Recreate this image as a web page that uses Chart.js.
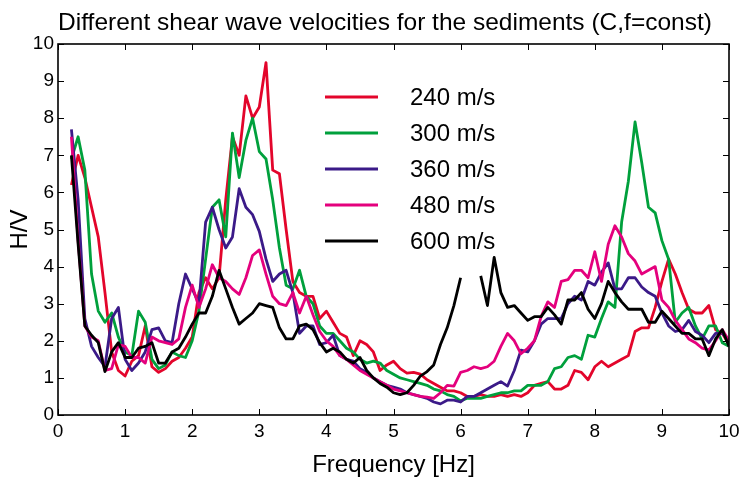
<!DOCTYPE html>
<html>
<head>
<meta charset="utf-8">
<script src="https://cdn.jsdelivr.net/npm/chart.js@4.4.0/dist/chart.umd.min.js"></script>
<style>
  html, body { margin: 0; padding: 0; background: #fff; }
  #wrap { width: 739px; height: 478px; }
</style>
</head>
<body>
<div id="wrap"><canvas id="hv"></canvas></div>
<script>
// frequency samples [Hz]
const freq = [
  0.2, 0.3, 0.4, 0.5, 0.6, 0.7, 0.8, 0.9,
  1.0, 1.1, 1.2, 1.3, 1.4, 1.5, 1.6, 1.7, 1.8, 1.9,
  2.0, 2.1, 2.2, 2.3, 2.4, 2.5, 2.6, 2.7, 2.8, 2.9,
  3.0, 3.1, 3.2, 3.3, 3.4, 3.5, 3.6, 3.7, 3.8, 3.9,
  4.0, 4.1, 4.2, 4.3, 4.4, 4.5, 4.6, 4.7, 4.8, 4.9,
  5.0, 5.1, 5.2, 5.3, 5.4, 5.5, 5.6, 5.7, 5.8, 5.9,
  6.0, 6.1, 6.2, 6.3, 6.4, 6.5, 6.6, 6.7, 6.8, 6.9,
  7.0, 7.1, 7.2, 7.3, 7.4, 7.5, 7.6, 7.7, 7.8, 7.9,
  8.0, 8.1, 8.2, 8.3, 8.4, 8.5, 8.6, 8.7, 8.8, 8.9,
  9.0, 9.1, 9.2, 9.3, 9.4, 9.5, 9.6, 9.7, 9.8, 9.9,
  10.0
]

const hv240 = [
  6.2, 7.0, 6.4, 5.6, 4.8, 3.3, 1.7, 1.2,
  1.05, 1.45, 1.6, 2.4, 1.3, 1.15, 1.25, 1.45, 1.55, 1.8,
  2.1, 3.3, 3.7, 3.4, 3.7, 5.8, 7.5, 7.0, 8.6, 8.0,
  8.3, 9.5, 6.6, 6.5, 5.0, 3.6, 3.3, 3.2, 3.2, 2.6,
  2.8, 2.5, 2.2, 2.1, 1.6, 2.0, 1.9, 1.7, 1.2, 1.35,
  1.45, 1.25, 1.13, 1.15, 1.1, 0.95, 0.85, 0.75, 0.65, 0.65,
  0.6, 0.5, 0.5, 0.55, 0.5, 0.5, 0.55, 0.5, 0.55, 0.5,
  0.6, 0.8, 0.85, 0.9, 0.7, 0.7, 0.8, 1.2, 1.15, 0.95,
  1.3, 1.45, 1.3, 1.4, 1.5, 1.6, 2.25, 2.35, 2.35, 2.9,
  3.6, 4.2, 3.8, 3.3, 2.85, 2.75, 2.75, 2.95, 2.3, 2.2,
  1.9
]

const hv300 = [
  6.9, 7.5, 6.6, 3.8, 2.8, 2.5, 2.75, 2.1,
  1.7, 1.6, 2.8, 2.5, 1.5, 1.25, 1.35, 1.7, 1.6, 1.55,
  2.0, 2.8, 4.2, 5.6, 5.8, 4.8, 7.6, 6.4, 7.4, 8.0,
  7.1, 6.9, 5.8, 4.5, 3.5, 3.4, 3.9, 3.2, 3.0, 2.4,
  2.2, 2.2, 2.0, 1.8, 1.7, 1.5, 1.4, 1.45, 1.4, 1.2,
  1.1, 1.0, 0.95, 0.9, 0.85, 0.8, 0.7, 0.65, 0.55, 0.5,
  0.38, 0.45, 0.45, 0.45, 0.5, 0.55, 0.6, 0.6, 0.65, 0.65,
  0.8, 0.8, 0.8, 0.9, 1.25, 1.3, 1.55, 1.6, 1.5, 2.15,
  2.1, 2.6, 3.05, 2.9, 5.2, 6.3, 7.9, 6.8, 5.6, 5.45,
  4.7, 4.2, 2.5, 2.75, 2.9, 2.4, 2.05, 2.4, 2.4, 1.95,
  1.85
]

const hv360 = [
  7.7, 5.8, 2.6, 1.85, 1.55, 1.3, 2.6, 2.9,
  1.5, 1.2, 1.4, 1.7, 2.3, 2.35, 2.0, 1.95, 3.0, 3.8,
  3.4, 3.0, 5.2, 5.6, 5.0, 4.5, 4.8, 6.1, 5.6, 5.4,
  4.95, 4.2, 3.6, 3.8, 3.9, 3.3, 2.2, 2.4, 2.4, 1.9,
  1.95, 2.15, 1.6, 1.5, 1.45, 1.25, 1.15, 1.0, 0.9, 0.8,
  0.75, 0.7, 0.6, 0.55, 0.5, 0.45, 0.35, 0.3, 0.4, 0.4,
  0.35, 0.5, 0.5, 0.6, 0.7, 0.8, 0.9, 0.78, 1.2, 1.75,
  1.7, 2.0, 2.45, 2.6, 2.6, 2.6, 3.0, 3.2, 3.1, 3.6,
  3.5, 3.85, 4.1, 3.4, 3.4, 3.7, 3.7, 3.45, 3.3, 3.2,
  2.75, 2.4, 2.25, 2.3, 2.55, 2.25, 2.15, 1.95, 2.2, 2.2,
  2.0
]

const hv480 = [
  7.5, 4.7, 2.4, 2.1, 2.0, 1.2, 1.25, 1.9,
  1.85, 1.55, 1.55, 1.4, 2.1, 2.0, 1.95, 1.9, 2.05, 2.9,
  3.5, 2.9, 3.4, 4.05, 3.7, 3.6, 3.4, 3.25, 3.7, 4.3,
  4.45, 3.8, 3.2, 3.0, 2.95, 3.3, 2.75, 3.2, 2.7, 2.25,
  2.0, 1.85, 1.6, 1.5, 1.35, 1.2, 1.1, 1.0, 0.9, 0.8,
  0.7, 0.65, 0.6, 0.55, 0.5, 0.48, 0.45, 0.6, 0.8, 0.78,
  1.15, 1.2, 1.3, 1.25, 1.3, 1.45, 1.85, 2.2, 2.0, 1.65,
  1.8, 2.0, 2.65, 3.05, 2.9, 3.6, 3.65, 3.9, 3.9, 3.7,
  4.4, 3.6, 4.6, 5.1, 4.8, 4.35, 4.15, 3.8, 3.9, 4.0,
  3.1, 2.9, 2.55, 2.3, 2.05, 1.95, 1.8, 1.75, 2.0, 2.3,
  2.0
]

// gap around 6.1-6.2 Hz in the 600 m/s curve
const hv600 = [
  7.0, 4.6, 2.4, 2.15, 1.95, 1.17, 1.7, 1.95,
  1.55, 1.55, 1.8, 1.85, 1.95, 1.4, 1.4, 1.7, 1.8, 2.1,
  2.45, 2.75, 2.75, 3.2, 3.9, 3.4, 2.9, 2.45, 2.6, 2.75,
  3.0, 2.95, 2.9, 2.35, 2.05, 2.05, 2.4, 2.45, 2.3, 1.95,
  1.7, 1.8, 1.7, 1.5, 1.4, 1.55, 1.2, 1.0, 0.85, 0.75,
  0.6, 0.55, 0.6, 0.8, 1.05, 1.17, 1.35, 1.9, 2.35, 2.95,
  3.7, null, null, 3.75, 2.95, 4.25, 3.3, 2.9, 2.95, 2.75,
  2.55, 2.65, 2.65, 2.9, 2.7, 2.45, 3.1, 3.1, 3.3, 2.85,
  2.6, 3.0, 3.6, 3.3, 3.05, 2.85, 2.85, 2.85, 2.5, 2.5,
  2.8, 2.6, 2.4, 2.2, 2.2, 2.05, 2.05, 1.6, 2.05, 2.3,
  1.85
]

const seriesLabels = ['240 m/s', '300 m/s', '360 m/s', '480 m/s', '600 m/s']
const seriesValues = [hv240, hv300, hv360, hv480, hv600]
const seriesColors = ['#e3052b', '#00a03c', '#3b1a88', '#e4007d', '#000000']
const xTicks = [0, 1, 2, 3, 4, 5, 6, 7, 8, 9, 10]
const yTicks = [0, 1, 2, 3, 4, 5, 6, 7, 8, 9, 10]
const titleText = 'Different shear wave velocities for the sediments (C,f=const)'

const tickFont = { family: "'Liberation Sans Narrow', 'Liberation Sans', Arial, sans-serif", size: 19 }
const labelFont = { family: "'Liberation Sans', Arial, sans-serif", size: 24, lineHeight: 1 }

// matplotlib-style box with ticks pointing inwards on all four sides
const boxTicks = {
  id: 'boxTicks',
  afterDraw(chart) {
    const { ctx, chartArea: a, scales: { x, y } } = chart
    ctx.save()
    ctx.strokeStyle = '#000'
    ctx.lineWidth = 1
    const len = 6
    xTicks.forEach(v => {
      const px = Math.round(x.getPixelForValue(v)) + 0.5
      ctx.beginPath()
      ctx.moveTo(px, a.bottom); ctx.lineTo(px, a.bottom - len)
      ctx.moveTo(px, a.top); ctx.lineTo(px, a.top + len)
      ctx.stroke()
    })
    yTicks.forEach(v => {
      const py = Math.round(y.getPixelForValue(v)) + 0.5
      ctx.beginPath()
      ctx.moveTo(a.left, py); ctx.lineTo(a.left + len, py)
      ctx.moveTo(a.right, py); ctx.lineTo(a.right - len, py)
      ctx.stroke()
    })
    ctx.lineWidth = 1.6
    ctx.strokeRect(a.left, a.top, a.right - a.left, a.bottom - a.top)
    ctx.restore()
  }
}

// title a little right of the canvas centre, as in the original figure
const plotTitle = {
  id: 'plotTitle',
  afterDraw(chart) {
    const { ctx } = chart
    ctx.save()
    ctx.font = "24.5px 'Liberation Sans', Arial, sans-serif"
    ctx.fillStyle = '#000'
    ctx.textAlign = 'center'
    ctx.textBaseline = 'middle'
    ctx.fillText(titleText, 385, 23)
    ctx.restore()
  }
}

// legend inside the plot, no frame
const innerLegend = {
  id: 'innerLegend',
  afterDraw(chart) {
    const { ctx } = chart
    ctx.save()
    ctx.font = "24px 'Liberation Sans', Arial, sans-serif"
    ctx.textBaseline = 'middle'
    ctx.textAlign = 'left'
    chart.data.datasets.forEach((ds, i) => {
      const yy = 97 + i * 36
      ctx.strokeStyle = ds.borderColor
      ctx.lineWidth = 3
      ctx.beginPath()
      ctx.moveTo(325, yy); ctx.lineTo(378, yy)
      ctx.stroke()
      ctx.fillStyle = '#000'
      ctx.fillText(ds.label, 410, yy + 1)
    })
    ctx.restore()
  }
}

new Chart(document.getElementById('hv'), {
  type: 'line',
  data: {
    datasets: seriesLabels.map((label, i) => ({
      label: label,
      data: freq.map((f, j) => ({ x: f, y: seriesValues[i][j] })),
      borderColor: seriesColors[i],
      borderWidth: 2.8,
      borderJoinStyle: 'round',
      pointRadius: 0,
      tension: 0,
      spanGaps: false,
      fill: false,
      order: seriesLabels.length - i
    }))
  },
  options: {
    responsive: true,
    maintainAspectRatio: false,
    animation: false,
    layout: { padding: { left: 0, right: 10, top: 44, bottom: 0 } },
    plugins: {
      legend: { display: false },
      tooltip: { enabled: false },
      title: { display: false }
    },
    scales: {
      x: {
        type: 'linear',
        min: 0,
        max: 10,
        afterFit: s => { s.height = 63; s.paddingLeft = 0; s.paddingRight = 0 },
        afterBuildTicks: s => { s.ticks = xTicks.map(v => ({ value: v })) },
        grid: { display: false, drawTicks: false },
        border: { display: false },
        ticks: { color: '#000', font: tickFont, padding: 5, maxRotation: 0 },
        title: { display: true, text: 'Frequency [Hz]', color: '#000', font: labelFont, padding: { top: 0, bottom: 1 } }
      },
      y: {
        min: 0,
        max: 10,
        afterFit: s => { s.width = 58; s.paddingTop = 0; s.paddingBottom = 0 },
        afterBuildTicks: s => { s.ticks = yTicks.map(v => ({ value: v })) },
        grid: { display: false, drawTicks: false },
        border: { display: false },
        ticks: { color: '#000', font: tickFont, padding: 4 },
        title: { display: true, text: 'H/V', color: '#000', font: labelFont, padding: { top: 8, bottom: 0 } }
      }
    }
  },
  plugins: [boxTicks, plotTitle, innerLegend]
})
</script>
</body>
</html>
